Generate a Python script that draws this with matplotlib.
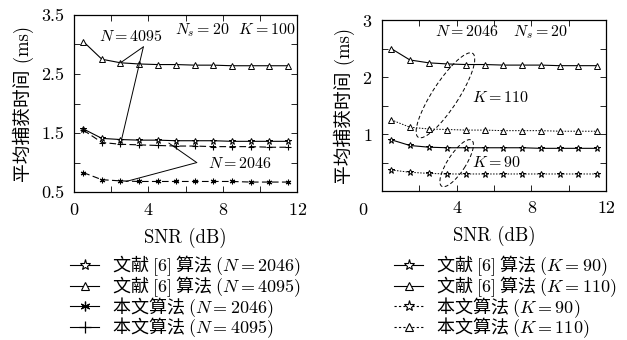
import numpy as np
import matplotlib
matplotlib.use("Agg")
import matplotlib.pyplot as plt
from matplotlib.lines import Line2D
from matplotlib.patches import Ellipse
from matplotlib.transforms import ScaledTranslation

plt.rcParams['font.family'] = ['cmr10', 'Noto Sans CJK SC']
plt.rcParams['mathtext.fontset'] = 'cm'
plt.rcParams['axes.formatter.use_mathtext'] = True
plt.rcParams['font.size'] = 13

# SNR (dB)
snr = [0.5, 1.5, 2.5, 3.5, 4.5, 5.5, 6.5, 7.5, 8.5, 9.5, 10.5, 11.5]

# left panel: Ns=20, K=100
ref_2046 = [1.57, 1.41, 1.39, 1.38, 1.38, 1.37, 1.37, 1.37, 1.36, 1.36, 1.36, 1.36]
ref_4095 = [3.05, 2.75, 2.69, 2.67, 2.66, 2.66, 2.65, 2.65, 2.64, 2.64, 2.64, 2.64]
our_2046 = [0.83, 0.71, 0.69, 0.68, 0.68, 0.68, 0.68, 0.68, 0.68, 0.67, 0.67, 0.67]
our_4095 = [1.55, 1.34, 1.31, 1.30, 1.29, 1.28, 1.28, 1.27, 1.27, 1.27, 1.26, 1.26]

# right panel: N=2046, Ns=20
ref_k90 = [0.90, 0.80, 0.77, 0.76, 0.76, 0.76, 0.76, 0.76, 0.75, 0.75, 0.75, 0.75]
ref_k110 = [2.50, 2.30, 2.25, 2.23, 2.22, 2.22, 2.21, 2.21, 2.21, 2.20, 2.20, 2.20]
our_k90 = [0.37, 0.33, 0.31, 0.30, 0.30, 0.30, 0.30, 0.30, 0.30, 0.30, 0.30, 0.30]
our_k110 = [1.25, 1.12, 1.09, 1.08, 1.07, 1.07, 1.06, 1.06, 1.06, 1.05, 1.05, 1.05]

# chinese goes outside $..$ so it is drawn with the legend's CJK font
left_labels = [r"文献 $[6]$ 算法 $(N{=}2046)$", r"文献 $[6]$ 算法 $(N{=}4095)$",
               r"本文算法 $(N{=}2046)$", r"本文算法 $(N{=}4095)$"]
right_labels = [r"文献 $[6]$ 算法 $(K{=}90)$", r"文献 $[6]$ 算法 $(K{=}110)$",
                r"本文算法 $(K{=}90)$", r"本文算法 $(K{=}110)$"]

ast = (6, 2, 0)
lw = 0.8
fs_note = 11.5

fig = plt.figure(figsize=(6.27, 3.4), dpi=100)
ax1 = fig.add_axes([0.118, 0.435, 0.356, 0.521])
ax2 = fig.add_axes([0.609, 0.438, 0.358, 0.503])

# left
ax1.plot(snr, ref_2046, '-', color='k', lw=lw, marker='*', ms=5, mfc='white', mew=0.7)
ax1.plot(snr, ref_4095, '-', color='k', lw=lw, marker='^', ms=4, mfc='white', mew=0.7)
ax1.plot(snr, our_2046, color='k', lw=lw, dashes=(6, 3), marker=ast, ms=4, mew=0.8)
ax1.plot(snr, our_4095, color='k', lw=lw, dashes=(6, 3), marker='+', ms=5, mew=0.8)

ax1.set_xlim(0, 12)
ax1.set_ylim(0.5, 3.5)
ax1.set_xticks([0, 4, 8, 12])
ax1.set_xticks([2, 6, 10], minor=True)
ax1.set_yticks([0.5, 1.5, 2.5, 3.5])
ax1.set_yticklabels(['0.5', '1.5', '2.5', '3.5'])
ax1.set_yticks([1.0, 2.0, 3.0], minor=True)

ax1.text(1.35, 3.13, r"$N{=}4095$", ha='left', va='center', fontsize=fs_note)
ax1.text(11.9, 3.25, r"$N_s{=}20$  $K{=}100$", ha='right', va='center', fontsize=fs_note)
ax1.text(7.2, 0.99, r"$N{=}2046$", ha='left', va='center', fontsize=fs_note)
for tgt in [(2.5, 2.69), (2.55, 1.38)]:
    ax1.annotate('', xy=tgt, xytext=(3.73, 2.96),
                 arrowprops=dict(arrowstyle='-', lw=0.7, shrinkA=0, shrinkB=0))
for tgt in [(5.1, 1.33), (2.8, 0.68)]:
    ax1.annotate('', xy=tgt, xytext=(6.6, 1.0),
                 arrowprops=dict(arrowstyle='-', lw=0.7, shrinkA=0, shrinkB=0))

# right
ax2.plot(snr, ref_k90, '-', color='k', lw=lw, marker='*', ms=5, mfc='white', mew=0.7)
ax2.plot(snr, ref_k110, '-', color='k', lw=lw, marker='^', ms=4, mfc='white', mew=0.7)
ax2.plot(snr, our_k90, color='k', lw=0.7, dashes=(1.5, 1.5), marker='*', ms=5, mfc='white', mew=0.7)
ax2.plot(snr, our_k110, color='k', lw=0.7, dashes=(1.5, 1.5), marker='^', ms=4, mfc='white', mew=0.7)

ax2.set_xlim(0, 12)
ax2.set_ylim(0, 3)
ax2.set_xticks([0, 4, 8, 12])
ax2.set_xticklabels(['', '4', '8', '12'])
ax2.set_xticks([2, 6, 10], minor=True)
ax2.set_yticks([1, 2, 3])
ax2.set_yticks([0.5, 1.5, 2.5], minor=True)
ax2.text(-1.0, -0.2, '0', ha='center', va='top', clip_on=False)

ax2.text(2.85, 2.79, r"$N{=}2046$   $N_s{=}20$", ha='left', va='center', fontsize=fs_note)
ax2.text(4.8, 1.65, r"$K{=}110$", ha='left', va='center', fontsize=fs_note)
ax2.text(4.8, 0.50, r"$K{=}90$", ha='left', va='center', fontsize=fs_note)
for (cx, cy, length, width) in [(3.4, 1.68, 1.0, 0.26), (4.0, 0.49, 0.55, 0.18)]:
    tr = fig.dpi_scale_trans + ScaledTranslation(cx, cy, ax2.transData)
    ax2.add_patch(Ellipse((0, 0), length, width, angle=57, transform=tr,
                          fill=False, ls=(0, (4, 2.5)), lw=0.7, color='k'))

for ax in (ax1, ax2):
    ax.tick_params(which='both', direction='in', top=True, right=True, pad=7)
    ax.tick_params(which='major', length=4, width=0.6)
    ax.tick_params(which='minor', length=4, width=0.6)
    for s in ax.spines.values():
        s.set_linewidth(0.9)
    ax.set_xlabel('SNR (dB)', labelpad=7, fontsize=13.5)
    ax.set_ylabel('平均捕获时间 (ms)', labelpad=5, fontsize=13.5)

# legends
h_left = [Line2D([], [], color='k', lw=lw, marker='*', ms=8, mfc='white', mew=0.8),
          Line2D([], [], color='k', lw=lw, marker='^', ms=6, mfc='white', mew=0.8),
          Line2D([], [], color='k', lw=lw, marker=ast, ms=7, mew=0.9),
          Line2D([], [], color='k', lw=lw, marker='+', ms=8, mew=0.9)]
h_right = [Line2D([], [], color='k', lw=lw, marker='*', ms=8, mfc='white', mew=0.8),
           Line2D([], [], color='k', lw=lw, marker='^', ms=6, mfc='white', mew=0.8),
           Line2D([], [], color='k', lw=0.8, dashes=(2, 2), marker='*', ms=8, mfc='white', mew=0.8),
           Line2D([], [], color='k', lw=0.8, dashes=(2, 2), marker='^', ms=6, mfc='white', mew=0.8)]

leg_kw = dict(frameon=False, handlelength=1.6, handletextpad=0.7, labelspacing=-0.22,
              borderaxespad=0, borderpad=0, loc='upper left',
              prop={'family': 'Noto Sans CJK SC', 'size': 13})
fig.legend(h_left, left_labels, bbox_to_anchor=(0.112, 0.255), **leg_kw)
fig.legend(h_right, right_labels, bbox_to_anchor=(0.629, 0.255), **leg_kw)

fig.savefig('out.png', dpi=100)
